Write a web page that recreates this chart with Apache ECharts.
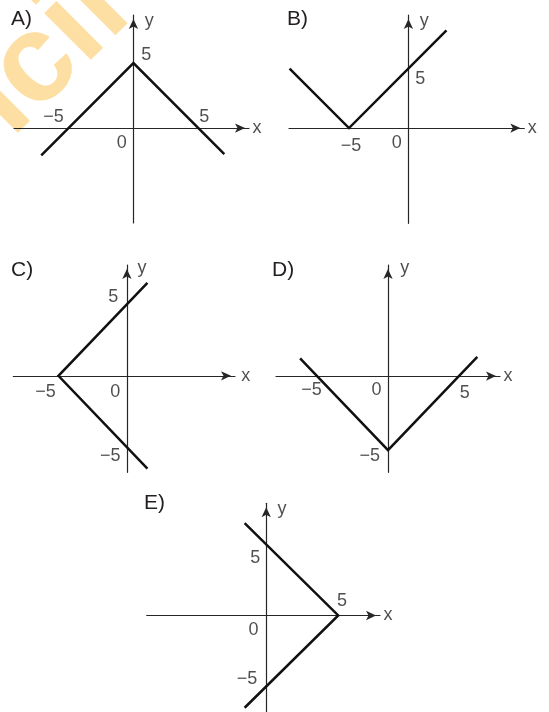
<!DOCTYPE html>
<html>
<head>
<meta charset="utf-8">
<title>Mutlak değer grafikleri</title>
<script src="https://cdn.jsdelivr.net/npm/echarts@6/dist/echarts.min.js"></script>
<style>
  html, body { margin: 0; padding: 0; background: #fff; }
  #main { width: 549px; height: 712px; }
</style>
</head>
<body>
<div id="main"></div>
<script>
// corner points of each graph (x, y)
var lineA = [[-7.1, -2.1], [0, 5], [7, -2]];
var lineB = [[-10, 5], [-5, 0], [3.2, 8.2]];
var lineC = [[1.5, 6.5], [-5, 0], [1.5, -6.5]];
var lineD = [[-6.2, 1.2], [0, -5], [6.3, 1.3]];
var lineE = [[-1.5, 6.5], [5, 0], [-1.5, -6.5]];

// numbers written on the axes
var ticksA = [[-5, 0], [5, 0], [0, 0], [0, 5]];
var ticksB = [[-5, 0], [0, 0], [0, 5]];
var ticksC = [[0, 5], [-5, 0], [0, 0], [0, -5]];
var ticksD = [[-5, 0], [0, 0], [5, 0], [0, -5]];
var ticksE = [[0, 5], [5, 0], [0, 0], [0, -5]];

var letters = ['A)', 'B)', 'C)', 'D)', 'E)'];

// layout of the five small plots (pixels), axis ranges and label nudges
var layout = [
    { grid: [14, 15, 235, 208], x: [-9.2, 8.9], y: [-7.3, 8.7], title: [11, 19],
      off: [[-15, -11], [6, -11], [-11.6, 15], [12.7, -7.7]], xName: [8, 0], yName: [15.7, 5.7] },
    { grid: [289, 15, 235.3, 208.3], x: [-10.05, 9.75], y: [-8, 9.5], title: [287, 19],
      off: [[2, 18], [-11.6, 15.3], [11.7, 10]], xName: [8, 0], yName: [15.7, 5.7] },
    { grid: [13.3, 265, 221.7, 207.3], x: [-8.3, 7.9], y: [-6.75, 7.75], title: [11, 270],
      off: [[-13.7, -7], [-13, 16.7], [-11.7, 16.7], [-16.7, 9]], xName: [10.7, 0], yName: [15, 3] },
    { grid: [276, 265, 224, 207.3], x: [-7.9, 7.9], y: [-6.5, 7.5], title: [272, 270],
      off: [[-5.7, 14], [-11.6, 14], [5.8, 17.3], [-18.3, 6]], xName: [8, 0], yName: [16.7, 3] },
    { grid: [146.7, 503.3, 233.3, 211.7], x: [-8.3, 7.9], y: [-6.8, 7.9], title: [144, 503.5],
      off: [[-11, 13.6], [3.7, -14], [-12.7, 15], [-19.3, -7]], xName: [8, 0], yName: [15.7, 6] }
];

var lines = [lineA, lineB, lineC, lineD, lineE];
var ticks = [ticksA, ticksB, ticksC, ticksD, ticksE];

var FONT = 'Liberation Sans, Arial, Helvetica, sans-serif';
var INK = '#231f20';

function fmt(v) {
    return v < 0 ? '\u2212' + Math.abs(v) : String(v);
}

function tickText(p) {
    if (p[0] == 0 && p[1] == 0) return '0';
    return p[1] == 0 ? fmt(p[0]) : fmt(p[1]);
}

var chart = echarts.init(document.getElementById('main'), null, { renderer: 'canvas' });

var grids = [], xAxes = [], yAxes = [], series = [], graphics = [];

// watermark behind everything (mostly outside the picture)
graphics.push({
    type: 'text',
    x: -151, y: 253,
    rotation: Math.PI / 4,
    z: -10,
    silent: true,
    style: {
        text: 'Pencil',
        fontSize: 125,
        fontWeight: 'bold',
        fontFamily: FONT,
        fill: '#fddfa3',
        align: 'left',
        verticalAlign: 'middle'
    }
});

for (var i = 0; i < 5; i++) {
    var L = layout[i];
    grids.push({ left: L.grid[0], top: L.grid[1], width: L.grid[2], height: L.grid[3] });
    var axisLine = {
        show: true,
        onZero: true,
        symbol: ['none', 'arrow'],
        symbolSize: [7, 10],
        symbolOffset: [0, -4],
        lineStyle: { color: '#262626', width: 1.2 }
    };
    xAxes.push({
        type: 'value', gridIndex: i, min: L.x[0], max: L.x[1],
        axisLine: axisLine, axisTick: { show: false }, axisLabel: { show: false }, splitLine: { show: false }
    });
    yAxes.push({
        type: 'value', gridIndex: i, min: L.y[0], max: L.y[1],
        axisLine: axisLine, axisTick: { show: false }, axisLabel: { show: false }, splitLine: { show: false }
    });

    series.push({
        type: 'line',
        xAxisIndex: i, yAxisIndex: i,
        data: lines[i],
        symbol: 'none',
        lineStyle: { color: '#111', width: 2.5, cap: 'butt', join: 'miter' },
        silent: true, z: 3
    });

    var pts = [];
    for (var k = 0; k < ticks[i].length; k++) {
        pts.push({ value: ticks[i][k], label: { formatter: tickText(ticks[i][k]), offset: L.off[k] } });
    }
    pts.push({ value: [L.x[1], 0], label: { formatter: 'x', offset: L.xName } });
    pts.push({ value: [0, L.y[1]], label: { formatter: 'y', offset: L.yName } });
    series.push({
        type: 'scatter',
        xAxisIndex: i, yAxisIndex: i,
        symbolSize: 0,
        data: pts,
        silent: true, z: 4,
        label: {
            show: true, position: 'inside', align: 'center', verticalAlign: 'middle',
            color: INK, fontSize: 18, fontFamily: FONT
        }
    });

    graphics.push({
        type: 'text',
        x: L.title[0], y: L.title[1],
        silent: true,
        style: { text: letters[i], fontSize: 21, fontFamily: FONT, fill: INK, align: 'left', verticalAlign: 'middle' }
    });
}

chart.setOption({
    animation: false,
    backgroundColor: '#fff',
    grid: grids,
    xAxis: xAxes,
    yAxis: yAxes,
    series: series,
    graphic: graphics
});

window.onresize = function () {
    if (chart != null && chart != undefined) {
        chart.resize();
    }
};
</script>
</body>
</html>
